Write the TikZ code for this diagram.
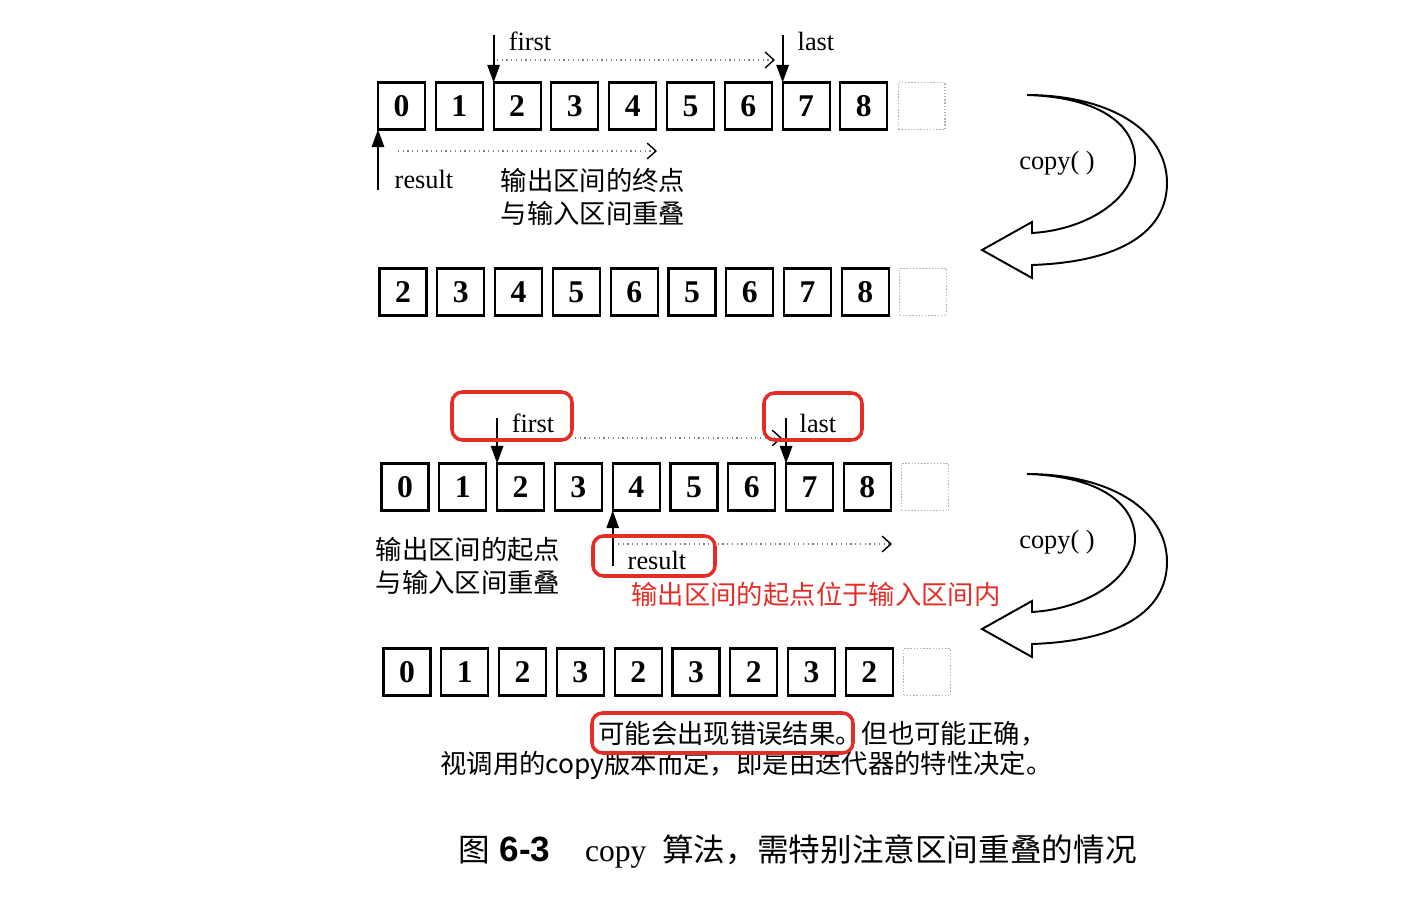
\documentclass[tikz,border=0pt]{standalone}
\usepackage{fontspec}
\setmainfont{Liberation Serif}
\setsansfont{Liberation Sans}
\newfontfamily\cjk{Noto Sans CJK SC}
\usetikzlibrary{arrows.meta}
\definecolor{markred}{RGB}{228,45,38}

\begin{document}
\begin{tikzpicture}[x=0.02cm,y=-0.02cm,
    cell/.style={draw,line width=1.2pt,minimum size=0.94cm,inner sep=0pt,outer sep=0pt,
        font=\fontsize{18}{20}\selectfont\bfseries},
    blank/.style={draw=gray!60,densely dotted,line width=0.8pt,minimum size=0.94cm,inner sep=0pt,outer sep=0pt},
    ptr/.style={line width=1.1pt,-{Triangle[length=10pt,width=7pt]}},
    spanline/.style={gray,dotted,line width=0.7pt,
        -{Straight Barb[length=5pt,width=9pt,line width=0.8pt,color=black]}},
    lbl/.style={font=\fontsize{15}{18}\selectfont,inner sep=0pt},
    note/.style={font=\cjk\fontsize{15}{18.5}\selectfont,align=left,inner sep=0pt},
    hilite/.style={markred,line width=2pt,rounded corners=6pt},
]
    \useasboundingbox (0,0) rectangle (1418,898);

    % the four rows of cells
    \foreach[count=\k from 0] \v in {0,1,2,3,4,5,6,7,8}
        \node[cell] (a\k) at (401.5+57.8*\k,106) {\v};
    \node[blank] (a9) at (401.5+57.8*9,106) {};
    \foreach[count=\k from 0] \v in {2,3,4,5,6,5,6,7,8}
        \node[cell] (b\k) at (403+57.8*\k,292) {\v};
    \node[blank] (b9) at (403+57.8*9,292) {};
    \foreach[count=\k from 0] \v in {0,1,2,3,4,5,6,7,8}
        \node[cell] (c\k) at (405+57.8*\k,487) {\v};
    \node[blank] (c9) at (405+57.8*9,487) {};
    \foreach[count=\k from 0] \v in {0,1,2,3,2,3,2,3,2}
        \node[cell] (d\k) at (407+57.8*\k,672) {\v};
    \node[blank] (d9) at (407+57.8*9,672) {};

    % first case: end of output inside input
    \coordinate (firstAtop) at (a2.north west |- 0,35);
    \coordinate (lastAtop) at (a7.north west |- 0,35);
    \coordinate (resAbot) at (a0.south west |- 0,190);
    \draw[ptr] (firstAtop) -- (a2.north west);
    \draw[ptr] (lastAtop) -- (a7.north west);
    \draw[ptr] (resAbot) -- (a0.south west);
    \node[lbl] (firstA) at (530,41) {first};
    \node[lbl] (lastA) at (816,41) {last};
    \node[lbl] (resultA) at (424,179) {result};
    \coordinate (rngAs) at (497,60);
    \coordinate (rngAe) at (775,60);
    \draw[spanline] (rngAs) -- (rngAe);
    \coordinate (outAs) at (398,151);
    \coordinate (outAe) at (657,151);
    \draw[spanline] (outAs) -- (outAe);
    \node[note] (noteA) at (593,197) {输出区间的终点\\与输入区间重叠};

    % second case: start of output inside input
    \coordinate (firstBtop) at (c2.north west |- 0,418);
    \coordinate (lastBtop) at (c7.north west |- 0,418);
    \coordinate (resBbot) at (c4.south west |- 0,566);
    \draw[ptr] (firstBtop) -- (c2.north west);
    \draw[ptr] (lastBtop) -- (c7.north west);
    \draw[ptr] (resBbot) -- (c4.south west);
    \node[lbl] (firstB) at (533,423) {first};
    \node[lbl] (lastB) at (818,423) {last};
    \node[lbl] (resultB) at (657,560) {result};
    \coordinate (rngBs) at (575,438);
    \coordinate (rngBe) at (782,438);
    \draw[spanline] (rngBs) -- (rngBe);
    \coordinate (outBs) at (618,544);
    \coordinate (outBe) at (892,544);
    \draw[spanline] (outBs) -- (outBe);
    \node[note] (noteB) at (468,566) {输出区间的起点\\与输入区间重叠};
    \node[note,markred] (noteR) at (816,595) {输出区间的起点位于输入区间内};

    % big curved copy arrows
    \foreach \dy/\nm in {0/A,379/B} {
        \begin{scope}[shift={(0,\dy)}]
        \draw[line width=1.1pt,fill=white,line join=miter]
            (1027,95) .. controls (1095,97) and (1135,122) .. (1135,160)
            .. controls (1135,200) and (1085,230) .. (1032,233)
            -- (1032,222) -- (982,250) -- (1032,278) -- (1032,265)
            .. controls (1120,262) and (1167,232) .. (1167,183)
            .. controls (1167,128) and (1105,95) .. cycle;
        \node[lbl] (copy\nm) at (1057,163) {copy( )};
        \end{scope}
    }

    % remarks and caption
    \node[note,anchor=west] (remA) at (598,734) {可能会出现错误结果。但也可能正确，};
    \node[note,anchor=west] (remB) at (440,765) {视调用的copy版本而定，即是由迭代器的特性决定。};
    \node[anchor=west,inner sep=0pt,font=\fontsize{18}{20}\selectfont] (caption) at (458,851)
        {{\cjk 图}\hspace{0.3em}{\sffamily\bfseries\fontsize{20}{22}\selectfont 6-3}\hspace{1.1em}copy\hspace{0.5em}{\cjk 算法，需特别注意区间重叠的情况}};

    % red highlights
    \draw[hilite] (452,392) rectangle (572,440);
    \draw[hilite] (764,393) rectangle (862,440);
    \draw[hilite] (593,536) rectangle (715,576);
    \draw[hilite] (592,713) rectangle (853,753);
\end{tikzpicture}
\end{document}
